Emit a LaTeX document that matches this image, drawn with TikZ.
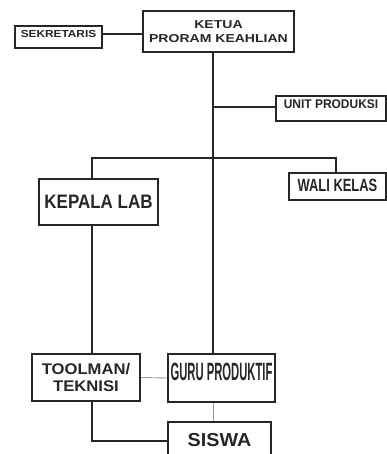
\documentclass[tikz,border=0pt]{standalone}
\usepackage{fontspec}
\setmainfont{Liberation Sans}
\usepackage{graphicx}

\begin{document}
\begin{tikzpicture}[x=1pt, y=-1pt,
    box/.style={draw=black!85, line width=1.7pt, inner sep=0pt, text=black!85},
    fs/.style 2 args={font=\bfseries\fontsize{#1}{#2}\selectfont},
    link/.style={black!85, line width=1.7pt},
    thinlink/.style={black!40, line width=0.9pt}]
                \useasboundingbox (0,0) rectangle (387,454);
                \clip (0,0) rectangle (387,454);
                \coordinate (bus) at (213,158);
                \coordinate (kl) at (92,158);
                \coordinate (wk) at (336,158);
                \coordinate (sw) at (92,441);
                \node[box, fs={10.2}{12}, minimum width=87pt, minimum height=22pt, text depth=6pt] (sekretaris) at (58.5,37) {\scalebox{1.16}[1]{SEKRETARIS}};
                \node[box, fs={11.5}{14}, align=center, minimum width=151pt, minimum height=41pt] (ketua) at (218.5,31.5) {\scalebox{1.22}[1]{KETUA}\\\scalebox{1.22}[1]{PRORAM KEAHLIAN}};
                \node[box, fs={12.6}{15}, minimum width=110pt, minimum height=25pt, text depth=8pt] (unit) at (331,108.5) {\scalebox{0.95}[1]{UNIT PRODUKSI}};
                \node[box, fs={19.5}{23}, minimum width=119pt, minimum height=46pt] (kepala) at (98.5,202) {\scalebox{0.87}[1]{KEPALA LAB}};
                \node[box, fs={17.7}{21}, minimum width=97pt, minimum height=27pt, text depth=2pt] (wali) at (337.5,186.5) {\scalebox{0.73}[1]{WALI KELAS}};
                \node[box, fs={15.4}{17}, align=center, minimum width=108pt, minimum height=47pt] (toolman) at (86,377.5) {\scalebox{1.08}[1]{TOOLMAN/}\\\scalebox{1.08}[1]{TEKNISI}};
                \node[box, fs={25}{30}, minimum width=107pt, minimum height=48pt, text depth=12pt] (guru) at (221.5,378) {\scalebox{0.45}[1]{GURU PRODUKTIF}};
                \node[box, fs={18.8}{22}, minimum width=103pt, minimum height=48pt, text depth=12pt] (siswa) at (219.5,446) {\scalebox{1.05}[1]{SISWA}};
                \draw[link] ([yshift=3pt]sekretaris.east) -- ([yshift=3pt]ketua.west |- sekretaris.east);
                \draw[link] (ketua.south -| bus) -- (guru.north -| bus);
                \draw[link] ([yshift=1.5pt]bus |- unit.west) -- ([yshift=1.5pt]unit.west);
                \draw[link] (kepala.north -| kl) -- (kl) -- (wk) -- (wali.north -| wk);
                \draw[link] (kepala.south -| kl) -- (toolman.north -| kl);
                \draw[link] (toolman.south -| sw) -- (sw) -- (siswa.west |- sw);
                \draw[thinlink] (toolman.east) -- (guru.west);
                \draw[thinlink] (guru.south -| bus) -- (siswa.north -| bus);
\end{tikzpicture}
\end{document}
